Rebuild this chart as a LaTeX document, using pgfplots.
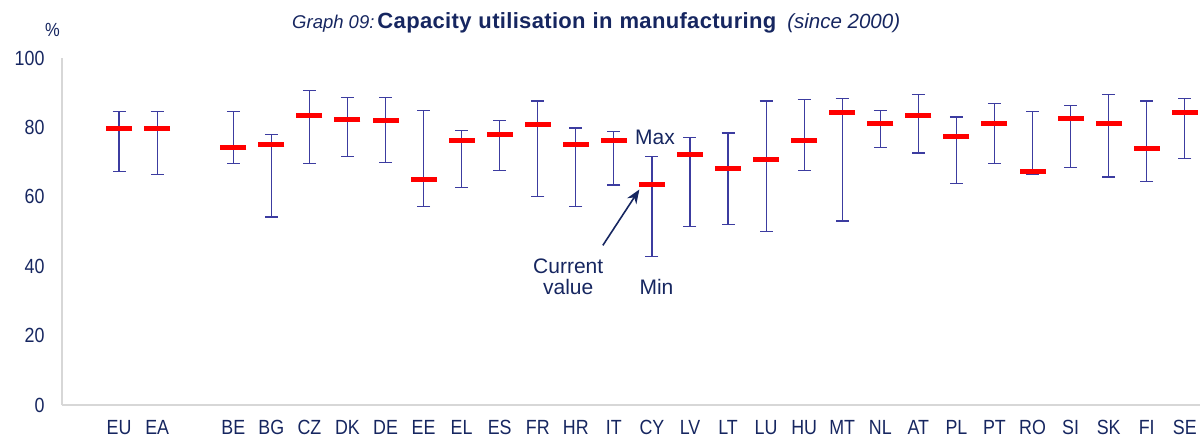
\documentclass[border=0pt]{standalone}
\usepackage{fontspec}
\setmainfont{Liberation Sans}
\newfontfamily\cond{Liberation Sans}[FakeStretch=0.87]
\newfontfamily\titlebf{Liberation Sans Bold}[LetterSpace=1.5]
\usepackage{pgfplots}
\pgfplotsset{compat=1.18}
\usepackage{pgfplotstable}
\usetikzlibrary{arrows.meta}
\definecolor{navy}{RGB}{22,38,96}
\definecolor{barblue}{RGB}{60,60,160}
\definecolor{axgray}{RGB}{215,215,215}
\pgfplotstableread{
x   cur   max   min
0   79.6  84.6  67.2
1   79.6  84.6  66.5
3   74.2  84.6  69.5
4   75.0  78.0  54.2
5   83.4  90.6  69.5
6   82.2  88.7  71.5
7   81.9  88.7  69.9
8   64.9  84.9  57.3
9   76.3  79.1  62.6
10  77.9  82.1  67.6
11  80.8  87.6  60.0
12  75.0  79.8  57.3
13  76.3  78.8  63.4
14  63.5  71.5  42.7
15  72.1  77.2  51.5
16  68.1  78.4  52.0
17  70.7  87.6  50.0
18  76.3  88.0  67.6
19  84.2  88.3  53.0
20  81.1  84.9  74.2
21  83.4  89.5  72.6
22  77.3  83.0  63.8
23  81.1  86.8  69.5
24  67.2  84.5  66.5
25  82.5  86.4  68.4
26  81.1  89.5  65.7
27  73.9  87.6  64.5
28  84.2  88.3  71.1
}\datatab
\begin{document}
\begin{tikzpicture}
\path[use as bounding box] (-62pt,-34pt) rectangle (1140pt,405pt);
\begin{axis}[
  scale only axis,
  width=1138pt, height=347pt,
  xmin=-1.5, xmax=28.4,
  ymin=0, ymax=100,
  ytick={0,20,40,60,80,100},
  xtick={0,1,3,4,5,6,7,8,9,10,11,12,13,14,15,16,17,18,19,20,21,22,23,24,25,26,27,28},
  xticklabels={EU,EA,BE,BG,CZ,DK,DE,EE,EL,ES,FR,HR,IT,CY,LV,LT,LU,HU,MT,NL,AT,PL,PT,RO,SI,SK,FI,SE},
  axis x line*=bottom, axis y line*=left,
  axis line style={draw=axgray, line width=1.3pt, -},
  major tick length=0pt,
  /pgf/number format/assume math mode=true,
  yticklabel style={font=\cond\fontsize{20.5}{22}\selectfont, text=navy, anchor=east, xshift=-14pt},
  xticklabel style={font=\cond\fontsize{20.5}{22}\selectfont, text=navy, anchor=north, yshift=-12pt},
  clip=false,
]
\addplot[only marks, mark=-, mark size=13pt, mark options={draw=red, line width=4.8pt},
  error bars/.cd, y dir=both, y explicit,
  error mark=|, error mark options={draw=barblue, mark size=6.5pt, line width=1.2pt},
  error bar style={draw=barblue, line width=1.2pt}]
  table[x=x, y=cur, y error plus expr=\thisrow{max}-\thisrow{cur}, y error minus expr=\thisrow{cur}-\thisrow{min}] {\datatab};
\node[font=\fontsize{21}{24}\selectfont, text=navy] at (axis cs:14.08,77.2) {Max};
\node[font=\fontsize{21}{24}\selectfont, text=navy] at (axis cs:14.12,34.0) {Min};
\node[font=\fontsize{21}{24}\selectfont, text=navy, align=center] at (axis cs:11.8,36.9) {Current\\[-3pt]value};
\draw[navy, line width=1.6pt, -{Stealth[length=14pt, width=11pt]}] (axis cs:12.71,46.0) -- (axis cs:13.67,62.1);
\end{axis}
\node[anchor=base west, text=navy, inner sep=0pt] at (230pt,376pt) {{\fontsize{18.5}{20}\selectfont\itshape Graph 09:}\hspace{3pt}{\titlebf\fontsize{22}{24}\selectfont Capacity\hspace{7pt}utilisation\hspace{7pt}in\hspace{7pt}manufacturing}\hspace{11pt}{\fontsize{20.5}{22}\selectfont\itshape (since 2000)}};
\node[anchor=base west, text=navy, inner sep=0pt, font=\cond\fontsize{19}{20}\selectfont] at (-17pt,368pt) {\%};
\end{tikzpicture}
\end{document}
